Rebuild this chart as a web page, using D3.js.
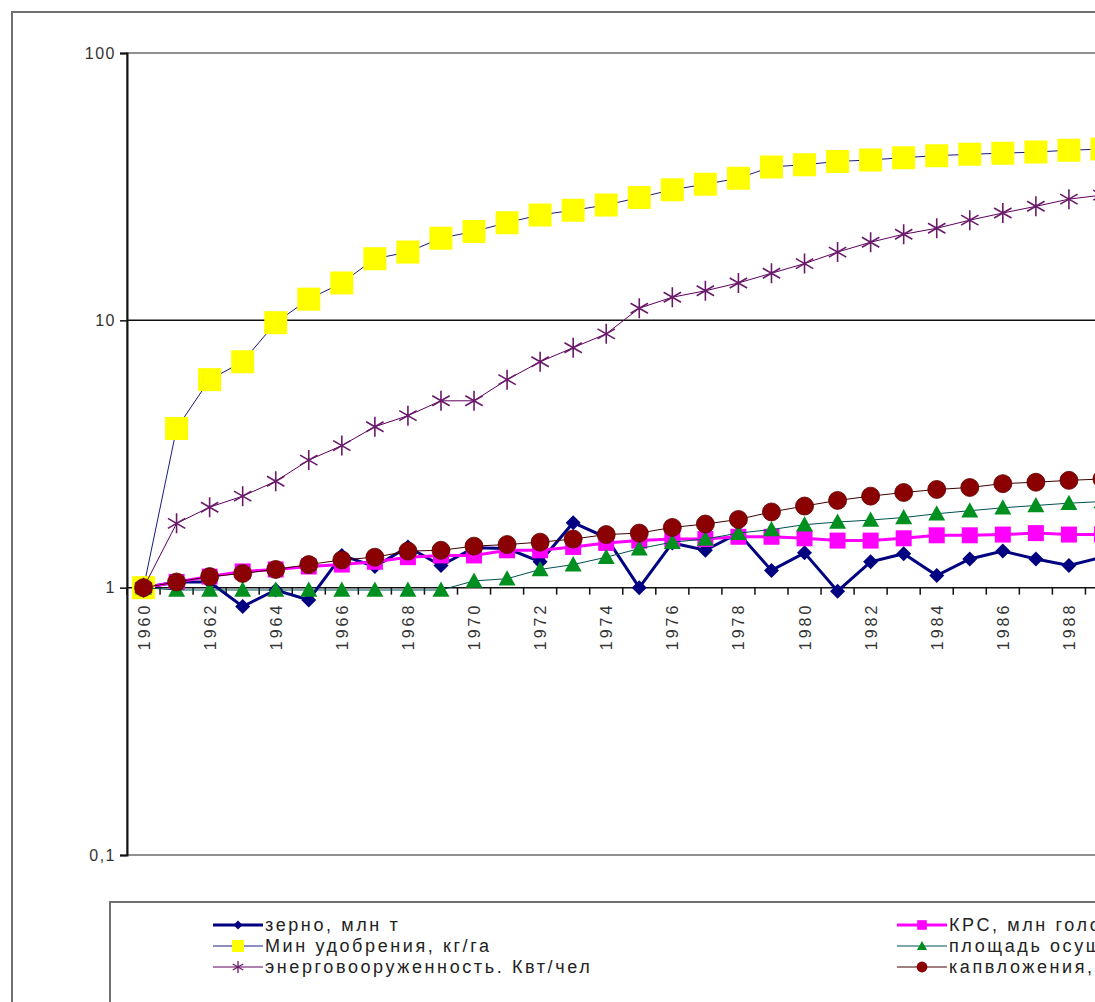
<!DOCTYPE html>
<html>
<head>
<meta charset="utf-8">
<script src="https://cdn.jsdelivr.net/npm/d3@7"></script>
<style>
  body { margin: 0; background: #fff; }
  svg { display: block; font-family: "Liberation Sans", Arial, sans-serif; }
</style>
</head>
<body>
<div class="chart"></div>
<script>
var svgWidth = 1095;
var svgHeight = 1002;

// chart data (index 1960 = 1)
var years = d3.range(1960, 1990);
var zerno = [1, 1.05, 1.05, 0.85, 0.98, 0.9, 1.32, 1.2, 1.42, 1.21, 1.41, 1.4, 1.25, 1.75, 1.54, 1.0, 1.47, 1.38, 1.6, 1.16, 1.35, 0.97, 1.25, 1.34, 1.11, 1.28, 1.37, 1.28, 1.21, 1.3];
var krs = [1, 1.05, 1.1, 1.15, 1.17, 1.2, 1.22, 1.25, 1.3, 1.32, 1.32, 1.38, 1.38, 1.42, 1.47, 1.5, 1.52, 1.52, 1.55, 1.55, 1.53, 1.5, 1.5, 1.53, 1.57, 1.57, 1.58, 1.6, 1.58, 1.58];
var udobr = [1, 3.94, 6, 7, 9.8, 12, 13.8, 17, 18, 20.3, 21.5, 23.2, 24.8, 25.8, 27, 28.8, 30.8, 32.3, 34, 37.5, 38.2, 39.3, 39.8, 40.6, 41.3, 41.8, 42.2, 42.6, 43.3, 43.7];
var ploshad = [1, 0.98, 0.98, 0.98, 0.98, 0.98, 0.98, 0.98, 0.98, 0.98, 1.06, 1.08, 1.17, 1.22, 1.3, 1.4, 1.48, 1.52, 1.6, 1.65, 1.72, 1.76, 1.79, 1.83, 1.89, 1.94, 1.99, 2.03, 2.07, 2.1];
var energo = [1, 1.74, 2.0, 2.2, 2.5, 3.0, 3.4, 4.0, 4.4, 5.0, 5.0, 6.0, 7.0, 7.9, 8.9, 11.1, 12.2, 12.9, 13.8, 15, 16.3, 18, 19.6, 21, 22.1, 23.7, 25.2, 26.7, 28.4, 29.4];
var kapvl = [1, 1.05, 1.1, 1.13, 1.17, 1.22, 1.27, 1.3, 1.37, 1.38, 1.43, 1.45, 1.48, 1.52, 1.58, 1.6, 1.68, 1.73, 1.8, 1.92, 2.02, 2.12, 2.2, 2.27, 2.33, 2.37, 2.45, 2.48, 2.52, 2.55];
var yTicks = [0.1, 1, 10, 100];
var yTickLabels = ["0,1", "1", "10", "100"];

var series = [
  { name: "зерно, млн т", values: zerno, line: "#000080", lw: 3, shape: "diamond", fill: "#000080", size: 15 },
  { name: "КРС, млн голов", values: krs, line: "#FF00FF", lw: 3, shape: "square", fill: "#FF00FF", size: 16 },
  { name: "Мин удобрения, кг/га", values: udobr, line: "#1a1a80", lw: 1, shape: "square", fill: "#FFFF00", size: 23 },
  { name: "площадь осушенных земель, млн га", values: ploshad, line: "#005050", lw: 1, shape: "triangle", fill: "#009020", size: 17 },
  { name: "энерговооруженность. Квт/чел", values: energo, line: "#600060", lw: 1, shape: "star", fill: "#6a1a6a", size: 20 },
  { name: "капвложения, млрд руб", values: kapvl, line: "#400000", lw: 1, shape: "circle", fill: "#8B0000", size: 18 }
];

var plot = { left: 127, top: 53, bottom: 855 };

var svg = d3.select(".chart")
  .append("svg")
  .attr("width", svgWidth)
  .attr("height", svgHeight);

// outer chart frame
svg.append("rect")
  .attr("x", 12).attr("y", 12)
  .attr("width", 1200).attr("height", 1200)
  .attr("fill", "none")
  .attr("stroke", "#707070")
  .attr("stroke-width", 2);

var xScale = d3.scaleBand()
  .domain(years)
  .range([plot.left, plot.left + years.length * 33.05])
  .paddingInner(0).paddingOuter(0);

var yScale = d3.scaleLog()
  .domain([0.1, 100])
  .range([plot.bottom, plot.top]);

var plotRight = xScale.range()[1];

// plot area border (gray)
svg.append("rect")
  .attr("x", plot.left).attr("y", plot.top)
  .attr("width", plotRight - plot.left).attr("height", plot.bottom - plot.top)
  .attr("fill", "none")
  .attr("stroke", "#909090")
  .attr("stroke-width", 2);

// gridlines
svg.append("g")
  .selectAll("line")
  .data([1, 10])
  .enter()
  .append("line")
  .attr("x1", plot.left).attr("x2", plotRight)
  .attr("y1", d => yScale(d)).attr("y2", d => yScale(d))
  .attr("stroke", "#111")
  .attr("stroke-width", 1.5);

// y axis
var leftAxis = d3.axisLeft(yScale)
  .tickValues(yTicks)
  .tickSize(7)
  .tickPadding(4)
  .tickFormat((d, i) => yTickLabels[i]);

var yAxisG = svg.append("g")
  .attr("transform", `translate(${plot.left}, 0)`)
  .call(leftAxis);
yAxisG.select(".domain").attr("stroke", "#111").attr("stroke-width", 2);
yAxisG.selectAll(".tick line").attr("stroke", "#111").attr("stroke-width", 1.5);
yAxisG.selectAll(".tick text")
  .attr("font-size", "16px")
  .attr("fill", "#333")
  .style("letter-spacing", "1.5px");

// x axis crosses at 1, ticks between categories
var xAxisG = svg.append("g")
  .attr("transform", `translate(0, ${yScale(1)})`);

xAxisG.selectAll("line.tick")
  .data(years.concat([years[years.length - 1] + 1]))
  .enter()
  .append("line")
  .attr("class", "tick")
  .attr("x1", (d, i) => plot.left + i * xScale.step())
  .attr("x2", (d, i) => plot.left + i * xScale.step())
  .attr("y1", 0).attr("y2", 7)
  .attr("stroke", "#111")
  .attr("stroke-width", 1.5);

xAxisG.selectAll("text")
  .data(years.filter((d, i) => i % 2 === 0))
  .enter()
  .append("text")
  .attr("transform", d => `translate(${xScale(d) + xScale.bandwidth() / 2 + 6}, 15) rotate(-90)`)
  .attr("text-anchor", "end")
  .attr("font-size", "16px")
  .attr("fill", "#333")
  .style("letter-spacing", "3px")
  .text(d => d);

// marker path builder
function markerPath(shape, size) {
  var h = size / 2;
  if (shape === "star") {
    return `M0,${-h}L0,${h}M${-h * 0.87},${-h * 0.5}L${h * 0.87},${h * 0.5}M${-h * 0.87},${h * 0.5}L${h * 0.87},${-h * 0.5}`;
  }
  if (shape === "square") return `M${-h},${-h}H${h}V${h}H${-h}Z`;
  if (shape === "diamond") return `M0,${-h}L${h},0L0,${h}L${-h},0Z`;
  if (shape === "triangle") return `M0,${-h}L${h},${h * 0.8}L${-h},${h * 0.8}Z`;
  return d3.symbol().type(d3.symbolCircle).size(Math.PI * h * h)();
}

var lineGen = d3.line()
  .x((d, i) => xScale(years[i]) + xScale.bandwidth() / 2)
  .y(d => yScale(d));

svg.append("defs").append("clipPath").attr("id", "plotclip")
  .append("rect")
  .attr("x", plot.left).attr("y", plot.top)
  .attr("width", plotRight - plot.left).attr("height", plot.bottom - plot.top);

var seriesG = svg.append("g").attr("clip-path", "url(#plotclip)");

series.forEach(function(s) {
  var g = seriesG.append("g");
  g.append("path")
    .datum(s.values)
    .attr("d", lineGen)
    .attr("fill", "none")
    .attr("stroke", s.line)
    .attr("stroke-width", s.lw);

  g.selectAll("path.m")
    .data(s.values)
    .enter()
    .append("path")
    .attr("class", "m")
    .attr("transform", (d, i) => `translate(${xScale(years[i]) + xScale.bandwidth() / 2}, ${yScale(d)})`)
    .attr("d", markerPath(s.shape, s.size))
    .attr("fill", s.shape === "star" ? "none" : s.fill)
    .attr("stroke", s.shape === "star" ? s.fill : (s.shape === "circle" ? "#600000" : "none"))
    .attr("stroke-width", s.shape === "star" ? 1.6 : 0.8);
});

// legend
var legend = svg.append("g");
legend.append("rect")
  .attr("x", 110).attr("y", 902)
  .attr("width", 1200).attr("height", 300)
  .attr("fill", "#fff")
  .attr("stroke", "#707070")
  .attr("stroke-width", 2);

series.forEach(function(s, i) {
  var col = i % 2;
  var row = Math.floor(i / 2);
  var x0 = col === 0 ? 213 : 897;
  var y0 = 925 + row * 21;
  var item = legend.append("g").attr("transform", `translate(${x0}, ${y0})`);
  item.append("line")
    .attr("x1", 0).attr("x2", 50)
    .attr("y1", 0).attr("y2", 0)
    .attr("stroke", s.line)
    .attr("stroke-width", s.lw);
  item.append("path")
    .attr("transform", "translate(25, 0)")
    .attr("d", markerPath(s.shape, Math.min(s.size * 0.6, 12)))
    .attr("fill", s.shape === "star" ? "none" : s.fill)
    .attr("stroke", s.shape === "star" ? s.fill : "none")
    .attr("stroke-width", 1.3);
  item.append("text")
    .attr("x", 52).attr("y", 6)
    .attr("font-size", "18px")
    .attr("fill", "#222")
    .style("letter-spacing", "2.6px")
    .text(s.name);
});
</script>
</body>
</html>
